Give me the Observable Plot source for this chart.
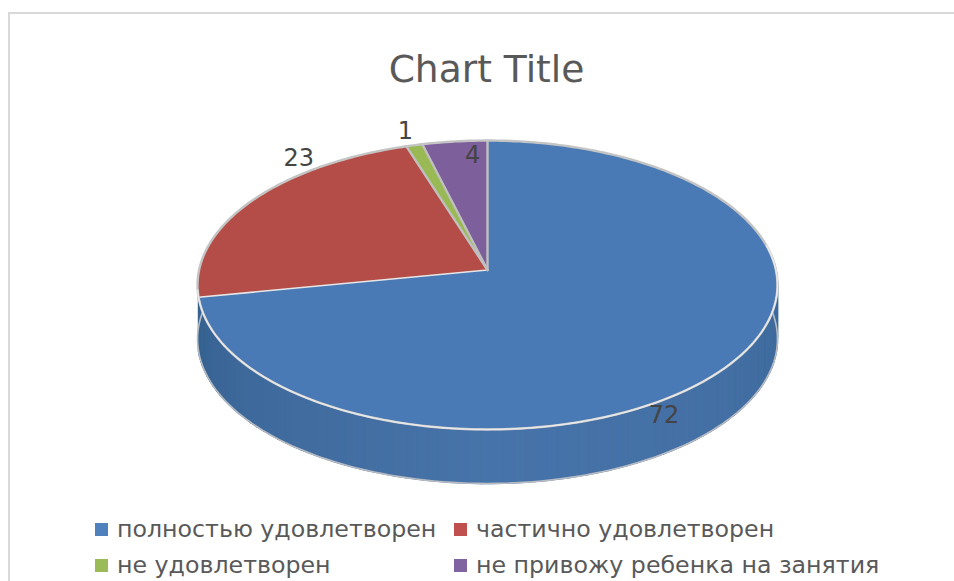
<!DOCTYPE html>
<html><head><meta charset="utf-8">
<script src="https://cdn.jsdelivr.net/npm/d3@7"></script>
<script src="https://cdn.jsdelivr.net/npm/@observablehq/plot@0.6"></script>
<style>
html,body{margin:0;padding:0;background:#fff;overflow:hidden;width:954px;height:581px}
#frame{position:absolute;left:8px;top:12px;right:-4px;bottom:-4px;border:2px solid #d9d9d9;box-sizing:border-box;}
#title{position:absolute;left:0;width:973px;top:45px;text-align:center;font:37.6px "DejaVu Sans";color:#595959;line-height:48px;}
#chart{position:absolute;left:0;top:100px;}
#legend{position:absolute;left:0;top:511px;width:954px;font:23.7px "DejaVu Sans";color:#595959;}
.li{position:absolute;white-space:nowrap;line-height:36px;}
.sw{position:absolute;width:13px;height:13px;}
</style></head><body>
<div id="frame"></div>
<div id="title">Chart Title</div>
<div id="chart"></div>
<div id="legend"></div>
<script>
const categories = ["полностью удовлетворен","частично удовлетворен","не удовлетворен","не привожу ребенка на занятия"];
const values = [72,23,1,4];
const topColors = ["#4a7ab5","#b44c47","#98b954","#7d5f9c"];
const legendColors = ["#4f81bd","#c0504d","#9bbb59","#8064a2"];

const k = 0.1038, depth = 0.378;
const project = (t, drop = 0, r = 1) => {
  const u = r * Math.sin(t), v = -r * Math.cos(t), w = 1 - k * v;
  return {x: u / w, y: v / w + drop};
};
const arcs = d3.pie().sort(null).value(d => d)(values);
const slices = [], side = [];
const steps = a => Math.max(3, Math.ceil((a.endAngle - a.startAngle) * 60));
arcs.forEach((a, i) => {
  const pts = [{x: 0, y: 0}];
  const n = steps(a);
  for (let j = 0; j <= n; j++) pts.push(project(a.startAngle + (a.endAngle - a.startAngle) * j / n));
  pts.push({x: 0, y: 0});
  pts.forEach(p => slices.push({...p, id: i, color: topColors[i]}));
});

// side wall in narrow bands
const shade = d3.scaleLinear()
  .domain([Math.PI*0.47, Math.PI*0.72, Math.PI, Math.PI*1.25, Math.PI*1.47])
  .range(["#3a6797", "#436fa4", "#4673a9", "#3f6a9d", "#34608f"]);
const start = Math.PI / 2 - 0.11, end = arcs[0].endAngle;
const bands = 90;
for (let b = 0; b < bands; b++) {
  const t0 = start + (end - start) * b / bands, t1 = start + (end - start) * (b + 1) / bands;
  const col = shade((t0 + t1) / 2);
  [project(t0), project(t1), project(t1, depth), project(t0, depth)]
    .forEach(p => side.push({...p, id: b, color: col}));
}

// silhouette
const tA = Math.PI/2 - 0.105, tB = Math.PI*1.5 + 0.105;
const sil = [];
for (let j = 0; j <= 120; j++) sil.push(project(tA + (tB - tA) * j / 120, depth));
const leftEdge = [project(tB), project(tB, depth)];
const rightEdge = [project(tA), project(tA, depth)];

// slice radial boundaries
const apex = {x: 0, y: 0};
const spoke = (t, id) => [apex, project(t)].map(p => ({...p, id}));
const spokesGrey = [...spoke(0, 0), ...spoke(arcs[2].endAngle, 1), ...spoke(arcs[2].startAngle, 2)];
const spokeLight = spoke(arcs[1].startAngle, 3);

const rimOuter = d3.range(0, 361).map(j => project(j / 360 * 2 * Math.PI));
const frontRim = rimOuter.filter((p, j) => j >= 80 && j <= 262);

// data labels, anchored at the slice rim
const labels = arcs.map((a, i) => {
  const p = project((a.startAngle + a.endAngle) / 2);
  return {...p, v: values[i]};
});
const label = (i, dx, dy) => Plot.text([labels[i]], {x: "x", y: "y", text: "v", dx, dy,
  fontSize: 24, fill: "#444444", fontFamily: "DejaVu Sans"});

const chart = Plot.plot({
  width: 954, height: 395,
  marginTop: 0, marginRight: 0, marginBottom: 0, marginLeft: 0,
  x: {domain: [-1, 1], range: [198.6, 775.4], axis: null},
  y: {domain: [-1, 1], range: [26.6, 312.4], axis: null},
  color: {type: "identity"},
  style: {background: "transparent", overflow: "visible"},
  marks: [
    Plot.line(side, {x: "x", y: "y", z: "id", fill: "color", stroke: "color", strokeWidth: 1.6}),
    Plot.line(sil, {x: "x", y: "y", stroke: "#b8bcc2", strokeWidth: 1.6}),
    Plot.line(leftEdge, {x: "x", y: "y", stroke: "#c4c4c4", strokeWidth: 1.6}),
    Plot.line(rightEdge, {x: "x", y: "y", stroke: "#c4c4c4", strokeWidth: 1.6}),
    Plot.line(slices, {x: "x", y: "y", z: "id", fill: "color", stroke: "none"}),
    Plot.line(spokeLight, {x: "x", y: "y", stroke: "#e6e6e6", strokeWidth: 1.6}),
    Plot.line(spokesGrey, {x: "x", y: "y", z: "id", stroke: "#c0c0c0", strokeWidth: 2.4}),
    Plot.line(rimOuter, {x: "x", y: "y", stroke: "#c4c4c4", strokeWidth: 2.4}),
    Plot.line(frontRim, {x: "x", y: "y", stroke: "#e8e8e8", strokeWidth: 1.6}),
    label(0, -61.5, 48),
    label(1, 47, -43),
    label(2, -9, -14),
    label(3, 18, 14)
  ]
});
document.getElementById("chart").appendChild(chart);

const legend = document.getElementById("legend");
const col = [95, 454], row = [0, 36];
categories.forEach((c, i) => {
  const x = col[i % 2], y = row[Math.floor(i / 2)];
  const sw = document.createElement("div");
  sw.className = "sw";
  sw.style.cssText = `left:${x}px;top:${y + 12}px;background:${legendColors[i]}`;
  const t = document.createElement("div");
  t.className = "li";
  t.style.cssText = `left:${x + 22}px;top:${y}px`;
  t.textContent = c;
  legend.append(sw, t);
});
</script>
</body></html>
